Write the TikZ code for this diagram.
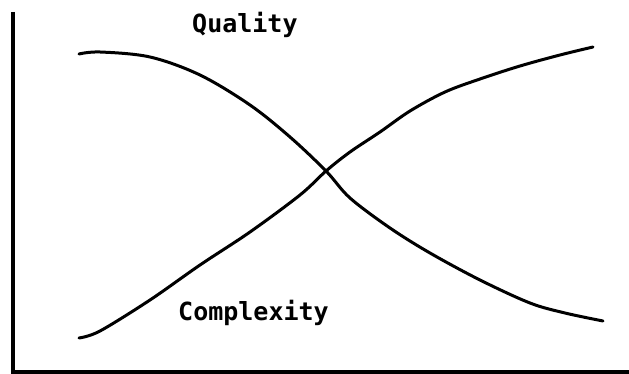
\documentclass[tikz,border=0pt]{standalone}
\usepackage{fontspec}
\newfontfamily\fontetichetta{DejaVu Sans Mono}
\usetikzlibrary{positioning}
\begin{document}
\begin{tikzpicture}[x=1pt, y=-1pt]
    % Stili
    \tikzstyle{asse} = [line width=3.5pt]
    \tikzstyle{curva} = [line width=3pt, line cap=round, line join=round]
    \tikzstyle{etichetta} = [font=\fontetichetta\bfseries\fontsize{25}{26}\selectfont, inner sep=0pt]
    \useasboundingbox (0,0) rectangle (629,374);

    % Assi
    \coordinate (top) at (13,12);
    \coordinate (origin) at (13,372);
    \coordinate (right) at (629,372);
    \draw [asse] (top) -- (origin) -- (right);

    % Curve
    \draw [curva] plot [smooth, tension=0.55] coordinates {(79,54) (100,52) (150,57) (200,75) (250,105) (290,137) (326,171) (350,198) (390,228) (430,253) (480,280) (530,303) (565,313) (603,321)};
    \draw [curva] plot [smooth, tension=0.55] coordinates {(79,338) (100,331) (150,300) (200,265) (250,232) (300,195) (326,171) (350,152) (380,132) (410,111) (445,92) (480,79) (520,66) (560,55) (593,47)};

    % Etichette
    \node [etichetta, anchor=base west] (quality) at (192,33) {Quality};
    \node [etichetta, anchor=base west] (complexity) at (178,320) {Complexity};
\end{tikzpicture}
\end{document}
